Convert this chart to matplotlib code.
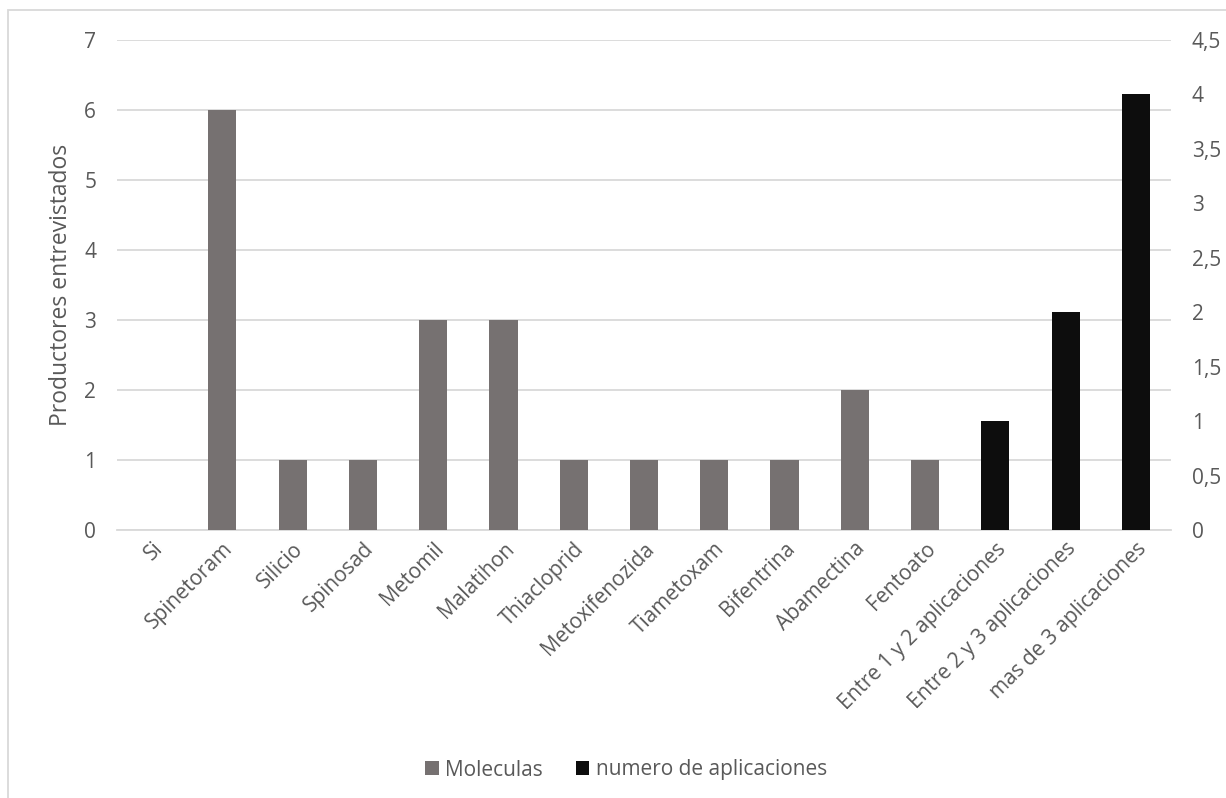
import numpy as np
import matplotlib
matplotlib.use("Agg")
import matplotlib.pyplot as plt
from matplotlib.patches import Rectangle

plt.rcParams['font.family'] = ['Open Sans', 'DejaVu Sans']

categories = ["Si", "Spinetoram", "Silicio", "Spinosad", "Metomil", "Malatihon",
              "Thiacloprid", "Metoxifenozida", "Tiametoxam", "Bifentrina",
              "Abamectina", "Fentoato", "Entre 1 y 2 aplicaciones",
              "Entre 2 y 3 aplicaciones", "mas de 3 aplicaciones"]
moleculas = [0, 6, 1, 1, 3, 3, 1, 1, 1, 1, 2, 1, np.nan, np.nan, np.nan]
aplicaciones = [np.nan] * 12 + [1, 2, 4]
left_ticks = [0, 1, 2, 3, 4, 5, 6, 7]
right_ticks = [0, 0.5, 1, 1.5, 2, 2.5, 3, 3.5, 4, 4.5]
right_labels = ["0", "0,5", "1", "1,5", "2", "2,5", "3", "3,5", "4", "4,5"]

gray = "#767171"
black = "#0D0D0D"
text_color = "#595959"
grid_color = "#D9D9D9"

fig = plt.figure(figsize=(12.26, 7.98), dpi=100)
ax = fig.add_axes([117 / 1226, 1 - 530 / 798, (1171 - 117) / 1226, 490 / 798])
ax2 = ax.twinx()

x = np.arange(len(categories))
w = 0.4
ax.bar(x, moleculas, width=w, color=gray, label="Moleculas", zorder=3)
ax2.bar(x, aplicaciones, width=w, color=black, label="numero de aplicaciones", zorder=3)

ax.set_xlim(-0.5, len(categories) - 0.5)
ax.set_ylim(0, 7)
ax2.set_ylim(0, 4.5)
ax.set_yticks(left_ticks)
ax.set_yticklabels([str(t) for t in left_ticks])
ax2.set_yticks(right_ticks)
ax2.set_yticklabels(right_labels)

ax.yaxis.grid(True, color=grid_color, linewidth=1.3, zorder=0)
ax.set_axisbelow(True)

for a in (ax, ax2):
    for s in a.spines.values():
        s.set_visible(False)
    a.tick_params(length=0, labelsize=15, colors=text_color)
ax.tick_params(axis='y', pad=15)
ax2.tick_params(axis='y', pad=15)
ax.spines['bottom'].set_visible(True)
ax.spines['bottom'].set_color(grid_color)
ax.spines['bottom'].set_linewidth(1.3)

ax.set_xticks(x)
ax.set_xticklabels(categories, rotation=45, ha='right', rotation_mode='anchor',
                   fontsize=15, color=text_color)
ax.tick_params(axis='x', pad=6)

ax.set_ylabel("Productores entrevistados", fontsize=16.5, color=text_color, labelpad=8)

h1, l1 = ax.get_legend_handles_labels()
h2, l2 = ax2.get_legend_handles_labels()
fig.legend(h1 + h2, l1 + l2, loc='center', bbox_to_anchor=(626 / 1226, 1 - 770 / 798),
           ncol=2, frameon=False, fontsize=15, labelcolor=text_color,
           handlelength=0.65, handleheight=0.65, handletextpad=0.3, columnspacing=1.6)

fig.patches.append(Rectangle((8 / 1226, -0.05), 1.0, 1 - 10 / 798 + 0.05,
                             transform=fig.transFigure, fill=False,
                             edgecolor=grid_color, linewidth=1.3))

fig.savefig("out.png", dpi=100, facecolor="white")
